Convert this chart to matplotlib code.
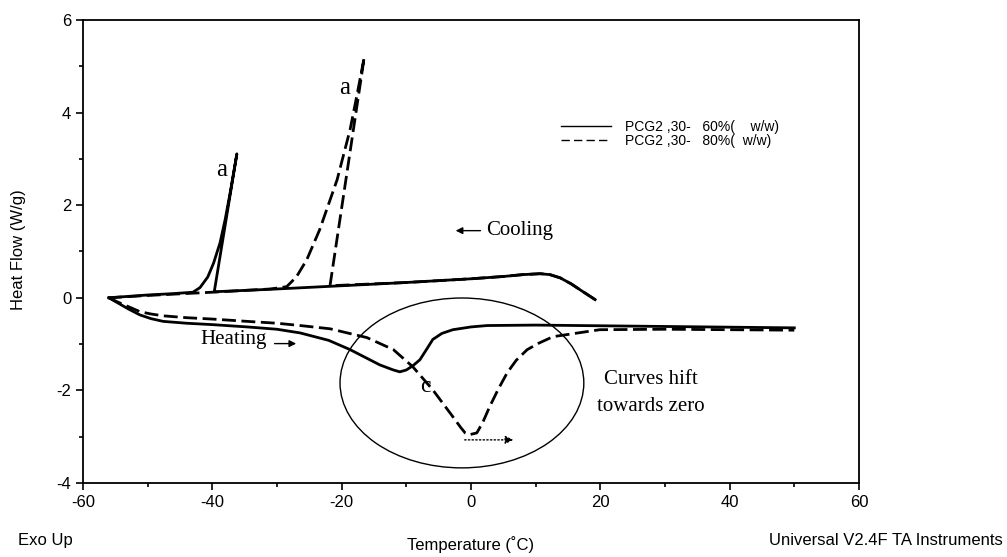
import matplotlib.pyplot as plt
from matplotlib.patches import Ellipse
from matplotlib.lines import Line2D

plt.rcParams['axes.unicode_minus'] = False

# cooling scans (run from high to low temperature)
t_cool_60 = [19.2, 18.0, 16.9, 15.5, 13.8, 12.2, 10.7, 8, 5, 0, -10, -20, -30, -39.7, -36.2, -37.2, -38.0, -38.8, -39.8, -40.7, -41.9, -43.0, -46, -50, -56]
hf_cool_60 = [-0.04, 0.07, 0.17, 0.3, 0.43, 0.5, 0.52, 0.5, 0.46, 0.41, 0.33, 0.26, 0.19, 0.13, 3.11, 2.3, 1.7, 1.19, 0.75, 0.45, 0.22, 0.12, 0.09, 0.06, 0.0]

t_cool_80 = [19.2, 18.0, 16.9, 15.5, 13.8, 12.2, 10.7, 8, 5, 0, -10, -21.8, -16.5, -17.6, -18.7, -20.7, -23.4, -25.4, -27.0, -28.5, -31, -40, -50, -56]
hf_cool_80 = [-0.04, 0.07, 0.17, 0.3, 0.43, 0.5, 0.52, 0.5, 0.46, 0.41, 0.33, 0.26, 5.2, 4.4, 3.63, 2.55, 1.47, 0.82, 0.45, 0.24, 0.19, 0.12, 0.05, 0.0]

# heating scans
t_heat_60 = [-56, -54.5, -53, -51.2, -49.5, -47.6, -44, -40, -34.6, -30, -26.4, -22, -18.7, -14.1, -12, -11, -10, -9, -7.9, -6.8, -5.9, -4.5, -2.8, 0, 2.5, 10, 30, 50]
hf_heat_60 = [0.0, -0.12, -0.24, -0.37, -0.45, -0.51, -0.55, -0.58, -0.63, -0.68, -0.76, -0.92, -1.12, -1.45, -1.56, -1.6, -1.56, -1.47, -1.34, -1.1, -0.9, -0.77, -0.69, -0.63, -0.6, -0.59, -0.62, -0.65]

t_heat_80 = [-56, -54.5, -53, -51.2, -49.5, -47.6, -44, -40, -34.6, -30, -26.4, -21.8, -16.1, -12, -9, -5.9, -2.8, -1.6, -0.9, -0.3, 0.9, 1.8, 2.9, 4.2, 5.6, 7, 8.7, 10.5, 12.7, 19.9, 30, 50]
hf_heat_80 = [0.0, -0.1, -0.19, -0.3, -0.35, -0.39, -0.43, -0.46, -0.51, -0.55, -0.6, -0.67, -0.86, -1.12, -1.49, -1.99, -2.57, -2.8, -2.92, -2.96, -2.92, -2.7, -2.35, -1.98, -1.62, -1.35, -1.12, -0.98, -0.84, -0.69, -0.68, -0.7]

legend_labels = ['PCG2 ,30-   60%(    w/w)', 'PCG2 ,30-   80%(  w/w)']

fig = plt.figure(figsize=(10.07, 5.57), dpi=100)
ax = fig.add_axes([0.0824, 0.133, 0.7706, 0.831])

dash = (0, (5, 2))
lw = 2.0
ax.plot(t_cool_60, hf_cool_60, color='black', lw=lw, solid_joinstyle='round')
ax.plot(t_heat_60, hf_heat_60, color='black', lw=lw, solid_joinstyle='round')
ax.plot(t_cool_80, hf_cool_80, color='black', lw=lw, linestyle=dash)
ax.plot(t_heat_80, hf_heat_80, color='black', lw=lw, linestyle=dash)

ax.set_xlim(-60, 60)
ax.set_ylim(-4, 6)
ax.set_xticks(range(-60, 61, 20))
ax.set_xticks(range(-50, 60, 20), minor=True)
ax.set_yticks(range(-4, 7, 2))
ax.set_yticks(range(-3, 6, 2), minor=True)
ax.tick_params(which='major', direction='out', length=5, width=1.2, labelsize=12)
ax.tick_params(which='minor', direction='out', length=3, width=1.2)
for lab in ax.get_xticklabels() + ax.get_yticklabels():
    lab.set_fontfamily('Liberation Sans')
for s in ax.spines.values():
    s.set_linewidth(1.3)

# annotations
serif = 'Liberation Serif'
ax.text(-38.6, 2.76, 'a', fontsize=18, family=serif, ha='center', va='center')
ax.text(-19.6, 4.54, 'a', fontsize=18, family=serif, ha='center', va='center')
ax.text(-7.1, -1.92, 'c', fontsize=17, family=serif, ha='center', va='center')
ax.text(2.3, 1.45, 'Cooling', fontsize=15, family=serif, ha='left', va='center')
ax.annotate('', xy=(-2.8, 1.45), xytext=(1.9, 1.45),
            arrowprops=dict(arrowstyle='-|>', color='black', lw=1, mutation_scale=10))
ax.text(-41.8, -0.91, 'Heating', fontsize=15, family=serif, ha='left', va='center')
ax.annotate('', xy=(-26.6, -0.99), xytext=(-30.8, -0.99),
            arrowprops=dict(arrowstyle='-|>', color='black', lw=1, mutation_scale=10))
ax.text(27.8, -1.77, 'Curves hift', fontsize=15, family=serif, ha='center', va='center')
ax.text(27.8, -2.35, 'towards zero', fontsize=15, family=serif, ha='center', va='center')
ax.annotate('', xy=(7.0, -3.07), xytext=(-1.4, -3.07),
            arrowprops=dict(arrowstyle='-|>', color='black', lw=1, linestyle=':',
                            mutation_scale=12))
ax.add_patch(Ellipse((-1.4, -1.84), 37.7, 3.67, fill=False, edgecolor='black', lw=1))

handles = [Line2D([], [], color='black', lw=1),
           Line2D([], [], color='black', lw=1, linestyle=(0, (6, 3)))]
ax.legend(handles, legend_labels, loc='upper left', bbox_to_anchor=(0.6, 0.812),
          frameon=False, handlelength=3.6, handletextpad=1.0,
          labelspacing=0.0, prop={'family': 'Liberation Sans', 'size': 10})

fig.text(0.018, 0.551, 'Heat Flow (W/g)', rotation=90, ha='center', va='center',
         fontsize=12, family='Liberation Sans')
fig.text(0.018, 0.03, 'Exo Up', ha='left', va='center', fontsize=12, family='Liberation Sans')
fig.text(0.467, 0.022, 'Temperature (˚C)', ha='center', va='center', fontsize=12,
         family='Liberation Sans')
fig.text(0.996, 0.03, 'Universal V2.4F TA Instruments', ha='right', va='center',
         fontsize=12, family='Liberation Sans')

fig.savefig('out.png', dpi=100)
